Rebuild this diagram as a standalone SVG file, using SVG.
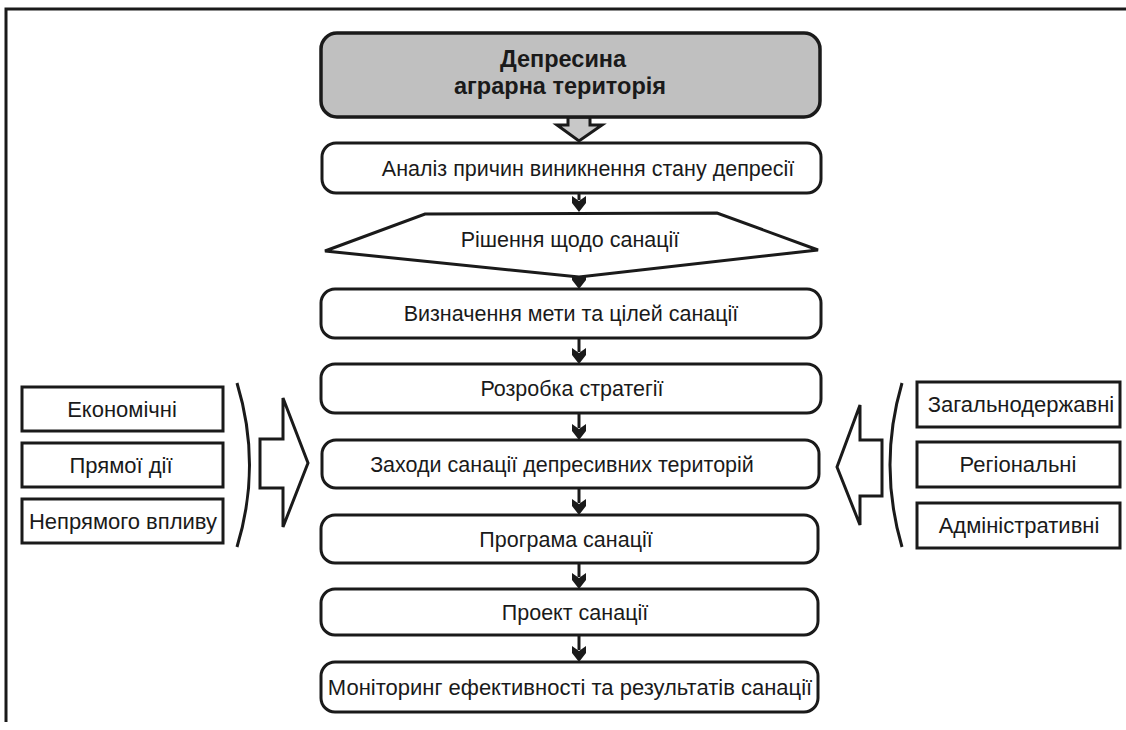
<svg xmlns="http://www.w3.org/2000/svg" width="1126" height="730" viewBox="0 0 1126 730">
<style>
  .box{fill:#fff;stroke:#1a1a1a;stroke-width:3}
  .main{fill:#c0c0c0;stroke:#1a1a1a;stroke-width:3.5}
  .rect{fill:#fff;stroke:#1a1a1a;stroke-width:3}
  .t{font-family:"Liberation Sans",Arial,sans-serif;font-size:21.5px;fill:#1a1a1a;text-anchor:middle}
  .ts{font-family:"Liberation Sans",Arial,sans-serif;font-size:22px;fill:#1a1a1a;text-anchor:middle}
  .tb{font-family:"Liberation Sans",Arial,sans-serif;font-size:23.5px;font-weight:bold;fill:#1a1a1a;text-anchor:middle}
  .line{stroke:#1a1a1a;stroke-width:3;fill:none}
  .brace{stroke:#1a1a1a;stroke-width:3;fill:none}
  .head{fill:#1a1a1a}
  .hollow{fill:#fff;stroke:#1a1a1a;stroke-width:3;stroke-linejoin:miter}
</style>
<defs>
  <path id="ah" d="M0,0 L-7,-9 L-7,-16 L0,-11 L7,-16 L7,-9 Z"/>
</defs>
<rect x="0" y="0" width="1126" height="730" fill="#fff"/>
<path class="line" d="M6,722 L6,9 L1126,9"/>

<g id="connectors">
  <path class="hollow" style="fill:#c8c8c8" d="M568,117 L590,117 L590,125 L602,125 L579,141 L557,125 L568,125 Z"/>
  <use href="#ah" class="head" x="579" y="212"/>
  <line class="line" x1="579" y1="193" x2="579" y2="200"/>
  <use href="#ah" class="head" x="579" y="289"/>
  <line class="line" x1="579" y1="338" x2="579" y2="352"/>
  <use href="#ah" class="head" x="579" y="364"/>
  <line class="line" x1="579" y1="413" x2="579" y2="428"/>
  <use href="#ah" class="head" x="579" y="440"/>
  <line class="line" x1="579" y1="488" x2="579" y2="503"/>
  <use href="#ah" class="head" x="579" y="515"/>
  <line class="line" x1="579" y1="563" x2="579" y2="577"/>
  <use href="#ah" class="head" x="579" y="589"/>
  <line class="line" x1="579" y1="635" x2="579" y2="650"/>
  <use href="#ah" class="head" x="579" y="662"/>
  <path class="hollow" d="M260,439 L283,439 L283,398 L308,463 L283,527 L283,488 L260,488 Z"/>
  <path class="hollow" d="M882,440 L860,440 L860,405 L837,467 L860,525 L860,496 L882,496 Z"/>
  <path class="brace" d="M237,383 Q262,465 237,547"/>
  <path class="brace" d="M902,383 Q878,465 902,547"/>
</g>

<g id="n-start">
  <rect class="main" x="321" y="33" width="499" height="84" rx="16"/>
  <text class="tb" x="563" y="67">Депресина</text>
  <text class="tb" x="560" y="94">аграрна територія</text>
</g>
<g id="n-analysis">
  <rect class="box" x="322" y="143" width="499" height="50" rx="14"/>
  <text class="t" x="588" y="176">Аналіз причин виникнення стану депресії</text>
</g>
<g id="n-decision">
  <path class="box" d="M425,214 L717,213 L818,250 L579,277 L325,251 Z"/>
  <text class="t" x="570" y="247">Рішення щодо санації</text>
</g>
<g id="n-goals">
  <rect class="box" x="321" y="289" width="500" height="49" rx="14"/>
  <text class="t" x="571" y="321">Визначення мети та цілей санації</text>
</g>
<g id="n-strategy">
  <rect class="box" x="321" y="364" width="500" height="49" rx="14"/>
  <text class="t" x="572" y="396">Розробка стратегії</text>
</g>
<g id="n-measures">
  <rect class="box" x="322" y="440" width="497" height="48" rx="14"/>
  <text class="t" x="562" y="472">Заходи санації депресивних територій</text>
</g>
<g id="n-program">
  <rect class="box" x="321" y="515" width="497" height="48" rx="14"/>
  <text class="t" x="566" y="547">Програма санації</text>
</g>
<g id="n-project">
  <rect class="box" x="321" y="589" width="497" height="46" rx="14"/>
  <text class="t" x="575" y="620">Проект санації</text>
</g>
<g id="n-monitoring">
  <rect class="box" x="321" y="662" width="497" height="50" rx="14"/>
  <text class="ts" x="570" y="695">Моніторинг ефективності та результатів санації</text>
</g>

<g id="n-econ">
  <rect class="rect" x="22" y="387" width="201" height="44"/>
  <text class="ts" x="122" y="417">Економічні</text>
</g>
<g id="n-direct">
  <rect class="rect" x="22" y="443" width="201" height="44"/>
  <text class="ts" x="121" y="473">Прямої дії</text>
</g>
<g id="n-indirect">
  <rect class="rect" x="22" y="499" width="201" height="44"/>
  <text class="ts" x="123" y="529">Непрямого впливу</text>
</g>
<g id="n-national">
  <rect class="rect" x="917" y="382" width="203" height="45"/>
  <text class="ts" x="1021" y="412">Загальнодержавні</text>
</g>
<g id="n-regional">
  <rect class="rect" x="917" y="442" width="203" height="45"/>
  <text class="ts" x="1018" y="472">Регіональні</text>
</g>
<g id="n-admin">
  <rect class="rect" x="917" y="503" width="203" height="45"/>
  <text class="ts" x="1019" y="533">Адміністративні</text>
</g>
</svg>
